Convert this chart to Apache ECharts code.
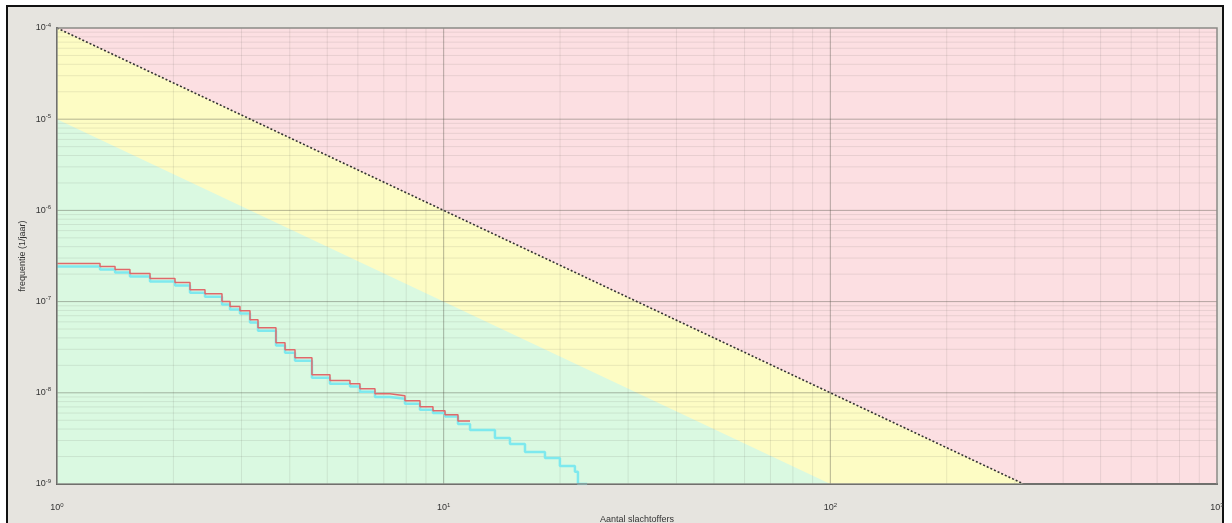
<!DOCTYPE html>
<html><head><meta charset="utf-8">
<script src="https://cdn.jsdelivr.net/npm/echarts@6/dist/echarts.min.js"></script>
<style>html,body{margin:0;padding:0;background:#fff}#c{width:1232px;height:523px}</style>
</head><body><div id="c"></div>
<script>
// Aantal slachtoffers (x) and frequentie (y)
const redN = [1, 1.292, 1.413, 1.544, 1.74, 2.019, 2.208, 2.414, 2.671, 2.802, 2.973, 3.156, 3.31, 3.684, 3.888, 4.126, 4.564, 5.081, 5.724, 6.074, 6.643, 7.262, 7.941, 8.685, 9.383, 10.08, 10.89, 11.7];
const redF = [2.62e-7, 2.42e-7, 2.25e-7, 2.03e-7, 1.79e-7, 1.62e-7, 1.35e-7, 1.22e-7, 1.0e-7, 8.81e-8, 7.96e-8, 6.34e-8, 5.18e-8, 3.54e-8, 2.97e-8, 2.43e-8, 1.58e-8, 1.36e-8, 1.26e-8, 1.11e-8, 9.75e-9, 9.27e-9, 8.17e-9, 7.02e-9, 6.34e-9, 5.73e-9, 4.92e-9, 4.92e-9];
const cyanN = [1, 1.292, 1.413, 1.544, 1.74, 2.019, 2.208, 2.414, 2.671, 2.802, 2.973, 3.156, 3.31, 3.684, 3.888, 4.126, 4.564, 5.081, 5.724, 6.074, 6.643, 7.262, 7.941, 8.685, 9.383, 10.08, 10.89, 11.7, 13.57, 14.84, 16.23, 18.28, 19.98, 21.85, 22.25, 23.5];
const cyanF = [2.42e-7, 2.25e-7, 2.08e-7, 1.88e-7, 1.66e-7, 1.5e-7, 1.25e-7, 1.13e-7, 9.3e-8, 8.2e-8, 7.4e-8, 5.9e-8, 4.8e-8, 3.3e-8, 2.75e-8, 2.25e-8, 1.46e-8, 1.26e-8, 1.17e-8, 1.03e-8, 9.0e-9, 8.6e-9, 7.6e-9, 6.5e-9, 6.0e-9, 5.5e-9, 4.56e-9, 3.92e-9, 3.2e-9, 2.75e-9, 2.25e-9, 1.93e-9, 1.58e-9, 1.36e-9, 1.0e-9, 1.0e-9];
// norm lines (oriëntatiewaarde): frequency = C / N^2
const upperNorm = [[1, 1e-4], [316.228, 1e-9]];
const lowerNorm = [[1, 1e-5], [100, 1e-9]];
const xDecades = [1, 10, 100, 1000];
const yDecades = [1e-9, 1e-8, 1e-7, 1e-6, 1e-5, 1e-4];
const xAxisName = 'Aantal slachtoffers';
const yAxisName = 'frequentie (1/jaar)';

const XMIN = 1, XMAX = 1000, YMIN = 1e-9, YMAX = 1e-4;
const xMinor = [], yMinor = [];
for (const d of xDecades.slice(0, -1)) for (let m = 2; m <= 9; m++) xMinor.push(d * m);
for (const d of yDecades.slice(0, -1)) for (let m = 2; m <= 9; m++) yMinor.push(+(d * m).toPrecision(3));

const pair = (a, b) => a.map((v, i) => [v, b[i]]);
// grid line segments separated by gaps
function gridSegs(xs, ys) {
  const out = [];
  xs.forEach(v => { out.push([v, YMIN], [v, YMAX], [v, '-']); });
  ys.forEach(v => { out.push([XMIN, v], [XMAX, v], ['-', v]); });
  return out;
}
const expLabel = v => '{b|10}{s|' + Math.round(Math.log10(v)) + '}';
const rich = { b: { fontSize: 9, color: '#333', fontFamily: 'Liberation Sans' }, s: { fontSize: 6, color: '#333', verticalAlign: 'top', padding: [0, 0, 6, 0], fontFamily: 'Liberation Sans' } };

const chart = echarts.init(document.getElementById('c'), null, { renderer: 'canvas' });
const G = { left: 57, top: 28, right: 15, bottom: 39 };
chart.setOption({
  animation: false,
  backgroundColor: '#ffffff',
  graphic: [
    { type: 'rect', z: -10, shape: { x: 7, y: 6, width: 1216, height: 540 }, style: { fill: '#e6e4df', stroke: '#111', lineWidth: 2 } },
    { type: 'rect', z: 100, silent: true, shape: { x: G.left, y: G.top, width: 1232 - G.left - G.right, height: 523 - G.top - G.bottom }, style: { fill: 'none', stroke: '#8a8a86', lineWidth: 1.5 } }
  ],
  grid: { left: G.left, top: G.top, right: G.right, bottom: G.bottom, show: true, backgroundColor: '#fcdfe2', borderWidth: 0, outerBoundsMode: 'none', containLabel: false },
  xAxis: {
    type: 'log', logBase: 10, min: XMIN, max: XMAX,
    name: xAxisName, nameLocation: 'middle', nameGap: 31, nameMoveOverlap: false,
    nameTextStyle: { fontSize: 9, color: '#333', fontFamily: 'Liberation Sans' },
    axisLine: { show: true, lineStyle: { color: '#222', width: 2 } },
    axisTick: { show: false },
    splitLine: { show: false },
    axisLabel: { formatter: expLabel, rich: rich, margin: 18 }
  },
  yAxis: {
    type: 'log', logBase: 10, min: YMIN, max: YMAX,
    name: yAxisName, nameLocation: 'middle', nameGap: 30, nameRotate: 90, nameMoveOverlap: false,
    nameTextStyle: { fontSize: 9, color: '#333', fontFamily: 'Liberation Sans' },
    axisLine: { show: true, lineStyle: { color: '#222', width: 2 } },
    axisTick: { show: false },
    splitLine: { show: false },
    axisLabel: { formatter: expLabel, rich: rich, margin: 6 }
  },
  series: [
    { type: 'line', z: 1, data: upperNorm, symbol: 'none', lineStyle: { width: 0 }, areaStyle: { color: '#fdfcc4', opacity: 1, origin: 'start' }, silent: true },
    { type: 'line', z: 2, data: lowerNorm, symbol: 'none', lineStyle: { width: 0 }, areaStyle: { color: '#daf9e1', opacity: 1, origin: 'start' }, silent: true },
    { type: 'line', z: 3, data: gridSegs(xMinor, yMinor), symbol: 'none', connectNulls: false, silent: true,
      lineStyle: { color: 'rgba(90,90,80,0.12)', width: 1 } },
    { type: 'line', z: 4, data: gridSegs(xDecades.slice(1, -1), yDecades.slice(1, -1)), symbol: 'none', connectNulls: false, silent: true,
      lineStyle: { color: 'rgba(80,80,70,0.42)', width: 1 } },
    { type: 'line', z: 6, data: upperNorm, symbol: 'none', lineStyle: { color: '#333', width: 1.6, type: [2, 2] }, silent: true },
    { type: 'line', z: 7, data: pair(cyanN, cyanF), step: 'end', symbol: 'none', lineStyle: { color: '#7ee9ee', width: 2.5 }, silent: true },
    { type: 'line', z: 8, data: pair(redN, redF), step: 'end', symbol: 'none', lineStyle: { color: '#e0686a', width: 1.5 }, silent: true }
  ]
});
</script>
</body></html>
